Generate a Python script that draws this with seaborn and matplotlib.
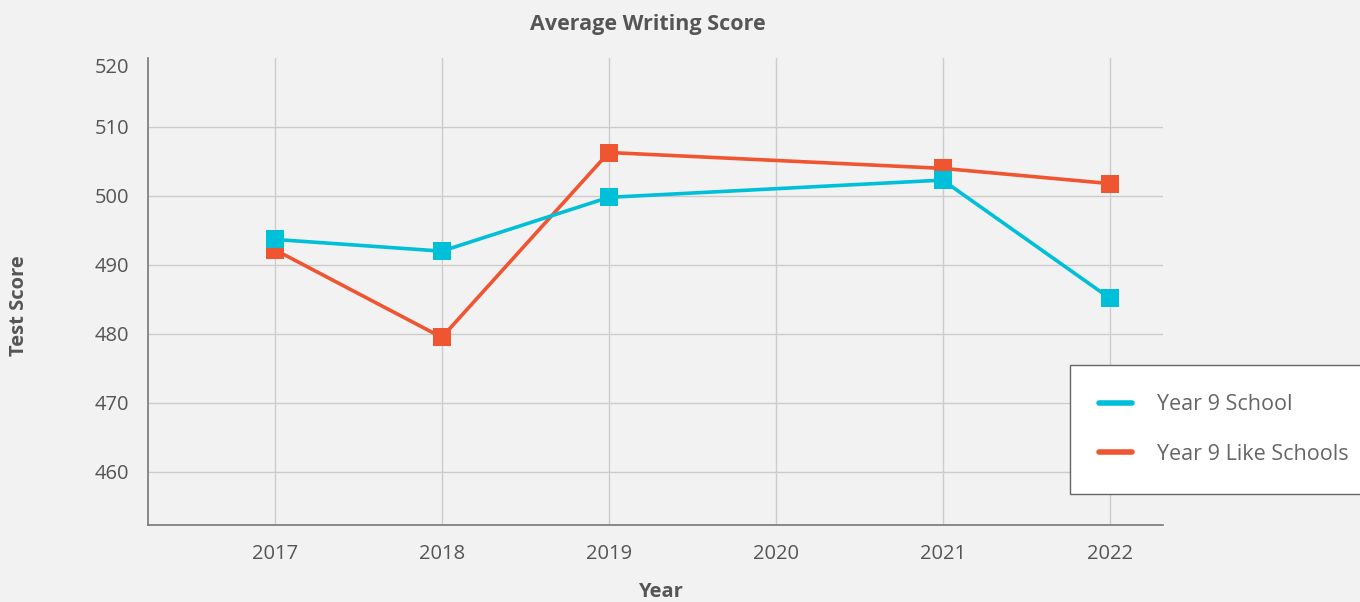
import numpy as np
import pandas as pd
import seaborn as sns
from matplotlib import pyplot as plt
from matplotlib.lines import Line2D

# values
years_school = [2017, 2018, 2019, 2021, 2022]
school = [493.7, 492.0, 499.8, 502.3, 485.2]
years_like = [2017, 2018, 2019, 2021, 2022]
like_schools = [492.2, 479.5, 506.3, 504.0, 501.8]
x_ticks = [2017, 2018, 2019, 2020, 2021, 2022]
y_ticks = [460, 470, 480, 490, 500, 510, 520]

c_school = '#00bfd8'
c_like = '#f05532'
bg = '#f2f2f2'

df_school = pd.DataFrame({'Year': years_school, 'Score': school})
df_like = pd.DataFrame({'Year': years_like, 'Score': like_schools})

sns.set_style('white')
plt.rcParams['font.family'] = ['Open Sans', 'DejaVu Sans']

fig = plt.figure(figsize=(13.6, 6.02), dpi=100, facecolor=bg)
ax = fig.add_axes([148 / 1360, 1 - 525 / 602, (1163 - 148) / 1360, (525 - 58) / 602])
ax.set_facecolor(bg)

sns.lineplot(data=df_like, x='Year', y='Score', ax=ax, color=c_like, linewidth=2.6,
             marker='s', markersize=13.5, markeredgewidth=0, zorder=3)
sns.lineplot(data=df_school, x='Year', y='Score', ax=ax, color=c_school, linewidth=2.6,
             marker='s', markersize=13.5, markeredgewidth=0, zorder=4)

ax.set_xlim(2016.24, 2022.32)
ax.set_ylim(452.3, 520)
ax.set_xticks(x_ticks)
ax.set_yticks(y_ticks)
ax.grid(True, color='#cccccc', linewidth=1)
ax.set_axisbelow(True)
ax.get_ygridlines()[-1].set_visible(False)

for s in ['top', 'right']:
    ax.spines[s].set_visible(False)
for s in ['left', 'bottom']:
    ax.spines[s].set_color('#777777')
    ax.spines[s].set_linewidth(1.2)

ax.tick_params(axis='both', length=0, labelsize=14.5, labelcolor='#555555')
ax.tick_params(axis='x', pad=14)
ax.tick_params(axis='y', pad=13.5)
ax.get_yticklabels()[-1].set_va('top')

ax.set_xlabel('Year', fontsize=14.5, fontweight='bold', color='#555555')
ax.xaxis.set_label_coords(0.505, -0.122)
ax.set_ylabel('Test Score', fontsize=14.5, fontweight='bold', color='#555555')
ax.yaxis.set_label_coords(-0.117, 0.469)
ax.set_title('Average Writing Score', fontsize=15.5, fontweight='bold', color='#555555',
             pad=20, x=0.4926)

handles = [Line2D([], [], color=c_school, linewidth=4, solid_capstyle='round'),
           Line2D([], [], color=c_like, linewidth=4, solid_capstyle='round')]
leg = fig.legend(handles, ['Year 9 School', 'Year 9 Like Schools'],
                 loc='upper left', bbox_to_anchor=(1070 / 1360, 1 - 365 / 602),
                 bbox_transform=fig.transFigure, frameon=True, fancybox=False,
                 fontsize=15.5, labelcolor='#666666', handlelength=1.55,
                 handletextpad=1.15, labelspacing=1.33, borderpad=1.35, borderaxespad=0)
leg.get_frame().set_edgecolor('#666666')
leg.get_frame().set_facecolor('white')
leg.get_frame().set_alpha(1)
leg.get_frame().set_linewidth(1)

fig.savefig('out.png', dpi=100, facecolor=bg)
